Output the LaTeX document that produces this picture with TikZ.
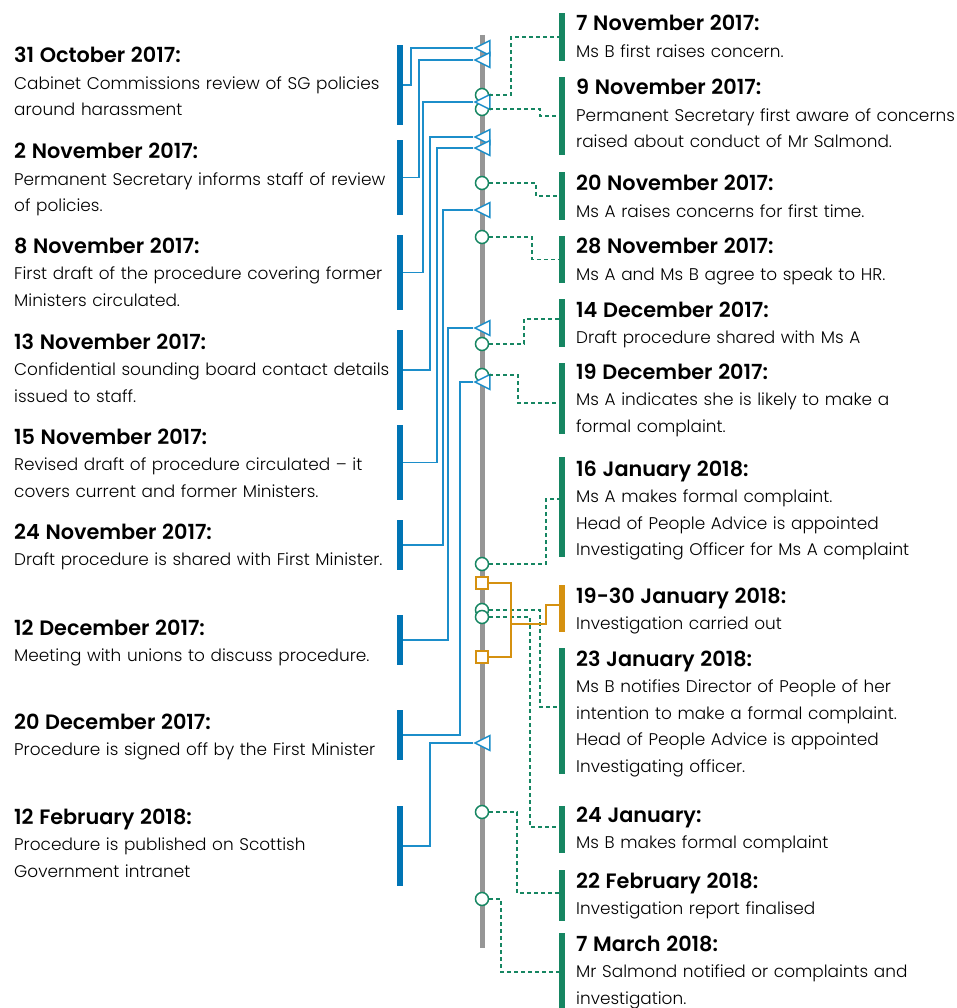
\documentclass[tikz,border=0pt]{standalone}
\usepackage{fontspec}
\setmainfont{Poppins}[UprightFont=* Light, BoldFont=* SemiBold]
\usetikzlibrary{shapes.geometric}
\definecolor{barblue}{RGB}{0,116,180}
\definecolor{linkblue}{RGB}{28,142,202}
\definecolor{evgreen}{RGB}{22,134,98}
\definecolor{evorange}{RGB}{213,145,16}
\definecolor{axisgrey}{RGB}{150,150,150}
\tikzset{
  lbar/.style={rectangle, fill=barblue, minimum width=6pt, inner sep=0pt},
  gbar/.style={rectangle, fill=evgreen, minimum width=6pt, inner sep=0pt},
  obar/.style={rectangle, fill=evorange, minimum width=6pt, inner sep=0pt},
  tmark/.style={isosceles triangle, isosceles triangle stretches, shape border rotate=180, minimum width=15pt, minimum height=15pt, inner sep=0pt, draw=linkblue, fill=white, line width=1.5pt, anchor=apex},
  cmark/.style={circle, minimum size=13pt, inner sep=0pt, draw=evgreen, fill=white, line width=1.5pt},
  smark/.style={rectangle, minimum size=12pt, inner sep=0pt, draw=evorange, fill=white, line width=1.5pt},
  bluelink/.style={draw=linkblue, line width=1.7pt},
  greenlink/.style={draw=evgreen, line width=1.7pt, dash pattern=on 4pt off 3pt},
  orangelink/.style={draw=evorange, line width=1.7pt},
  evtext/.style={anchor=base west, text width=400pt, align=left, inner sep=0pt, font=\fontsize{16.9}{26.5}\selectfont}
}
\newcommand{\evdate}[1]{{\fontsize{20.8}{26.5}\selectfont\bfseries #1}}

\begin{document}
\begin{tikzpicture}[x=1pt, y=-1pt]
\useasboundingbox (0,0) rectangle (956,1008);
\draw[axisgrey, line width=5pt] (482,35) -- (482,948);

\node[evtext] (lt1) at (14,63) {\evdate{31 October 2017:}\\Cabinet Commissions review of SG policies\\around harassment};
\node[evtext] (lt2) at (14,159) {\evdate{2 November 2017:}\\Permanent Secretary informs staff of review\\of policies.};
\node[evtext] (lt3) at (14,253) {\evdate{8 November 2017:}\\First draft of the procedure covering former\\Ministers circulated.};
\node[evtext] (lt4) at (14,349) {\evdate{13 November 2017:}\\Confidential sounding board contact details\\issued to staff.};
\node[evtext] (lt5) at (14,444) {\evdate{15 November 2017:}\\Revised draft of procedure circulated -- it\\covers current and former Ministers.};
\node[evtext] (lt6) at (14,539) {\evdate{24 November 2017:}\\Draft procedure is shared with First Minister.};
\node[evtext] (lt7) at (14,635) {\evdate{12 December 2017:}\\Meeting with unions to discuss procedure.};
\node[evtext] (lt8) at (14,729) {\evdate{20 December 2017:}\\Procedure is signed off by the First Minister};
\node[evtext] (lt9) at (14,824) {\evdate{12 February 2018:}\\Procedure is published on Scottish\\Government intranet};

\node[lbar, minimum height=80pt] (lb1) at (400,85) {};
\node[lbar, minimum height=75pt] (lb2) at (400,177.5) {};
\node[lbar, minimum height=75pt] (lb3) at (400,272.5) {};
\node[lbar, minimum height=80pt] (lb4) at (400,370) {};
\node[lbar, minimum height=75pt] (lb5) at (400,462.5) {};
\node[lbar, minimum height=50pt] (lb6) at (400,545) {};
\node[lbar, minimum height=50pt] (lb7) at (400,640) {};
\node[lbar, minimum height=50pt] (lb8) at (400,735) {};
\node[lbar, minimum height=80pt] (lb9) at (400,846) {};

\node[evtext] (rt1) at (576,31) {\evdate{7 November 2017:}\\Ms B first raises concern.};
\node[evtext] (rt2) at (576,95) {\evdate{9 November 2017:}\\Permanent Secretary first aware of concerns\\raised about conduct of Mr Salmond.};
\node[evtext] (rt3) at (576,191) {\evdate{20 November 2017:}\\Ms A raises concerns for first time.};
\node[evtext] (rt4) at (576,254) {\evdate{28 November 2017:}\\Ms A and Ms B agree to speak to HR.};
\node[evtext] (rt5) at (576,317) {\evdate{14 December 2017:}\\Draft procedure shared with Ms A};
\node[evtext] (rt6) at (576,379) {\evdate{19 December 2017:}\\Ms A indicates she is likely to make a\\formal complaint.};
\node[evtext] (rt7) at (576,476) {\evdate{16 January 2018:}\\Ms A makes formal complaint.\\Head of People Advice is appointed\\Investigating Officer for Ms A complaint};
\node[evtext] (rt8) at (576,603) {\evdate{19-30 January 2018:}\\Investigation carried out};
\node[evtext] (rt9) at (576,666) {\evdate{23 January 2018:}\\Ms B notifies Director of People of her\\intention to make a formal complaint.\\Head of People Advice is appointed\\Investigating officer.};
\node[evtext] (rt10) at (576,822) {\evdate{24 January:}\\Ms B makes formal complaint};
\node[evtext] (rt11) at (576,888) {\evdate{22 February 2018:}\\Investigation report finalised};
\node[evtext] (rt12) at (576,951) {\evdate{7 March 2018:}\\Mr Salmond notified or complaints and\\investigation.};

\node[gbar, minimum height=48pt] (rb1) at (562,37) {};
\node[gbar, minimum height=78pt] (rb2) at (562,116) {};
\node[gbar, minimum height=48pt] (rb3) at (562,196) {};
\node[gbar, minimum height=47pt] (rb4) at (562,259.5) {};
\node[gbar, minimum height=48pt] (rb5) at (562,323) {};
\node[gbar, minimum height=71pt] (rb6) at (562,398.5) {};
\node[gbar, minimum height=100pt] (rb7) at (562,507) {};
\node[obar, minimum height=47pt] (ob) at (562,608.5) {};
\node[gbar, minimum height=126pt] (rb9) at (562,711) {};
\node[gbar, minimum height=47pt] (rb10) at (562,829.5) {};
\node[gbar, minimum height=51pt] (rb11) at (562,895.5) {};
\node[gbar, minimum height=75pt] (rb12) at (562,970.5) {};

\node[cmark] (c1) at (482,95) {};
\node[cmark] (c2) at (482,109) {};
\node[cmark] (c3) at (482,183) {};
\node[cmark] (c4) at (482,237) {};
\node[cmark] (c5) at (482,344) {};
\node[cmark] (c6) at (482,375) {};
\node[cmark] (c7) at (482,564) {};
\node[cmark] (c9) at (482,610) {};
\node[cmark] (c10) at (482,617) {};
\node[cmark] (c11) at (482,812) {};
\node[cmark] (c12) at (482,899) {};

\node[tmark] (t1) at (473,48) {};
\node[tmark] (t2) at (473,60) {};
\node[tmark] (t3) at (473,102) {};
\node[tmark] (t4) at (473,137) {};
\node[tmark] (t5) at (473,148) {};
\node[tmark] (t6) at (473,210) {};
\node[tmark] (t7) at (473,328) {};
\node[tmark] (t8) at (473,382) {};
\node[tmark] (t9) at (473,743) {};

\node[smark] (s1) at (482,583) {};
\node[smark] (s2) at (482,657) {};
\coordinate (ofork) at (511,624);

\draw[bluelink] (lb1.east) -- ++(8,0) |- (t1.apex);
\draw[bluelink] (lb2.east) -- ++(16,0) |- (t2.apex);
\draw[bluelink] (lb3.east) -- ++(20,0) |- (t3.apex);
\draw[bluelink] (lb4.east) -- ++(27,0) |- (t4.apex);
\draw[bluelink] (lb5.east) -- ++(34,0) |- (t5.apex);
\draw[bluelink] (lb6.east) -- ++(40,0) |- (t6.apex);
\draw[bluelink] (lb7.east) -- ++(45,0) |- (t7.apex);
\draw[bluelink] (lb8.east) -- ++(57,0) |- (t8.apex);
\draw[bluelink] (lb9.east) -- ++(27,0) |- (t9.apex);

\draw[greenlink] (c1.east) -- ++(22,0) |- (rb1.west);
\draw[greenlink] (c2.east) -- ++(51,0) |- (rb2.west);
\draw[greenlink] (c3.east) -- ++(47,0) |- (rb3.west);
\draw[greenlink] (c4.east) -- ++(43,0) |- (rb4.west);
\draw[greenlink] (c5.east) -- ++(35,0) |- ([yshift=4pt]rb5.west);
\draw[greenlink] (c6.east) -- ++(29,0) |- ([yshift=-4.5pt]rb6.west);
\draw[greenlink] (c7.east) -- ++(57,0) |- ([yshift=8pt]rb7.west);
\draw[greenlink] (c9.east) -- ++(51,0) |- ([yshift=4pt]rb9.west);
\draw[greenlink] (c10.east) -- ++(41,0) |- ([yshift=2.5pt]rb10.west);
\draw[greenlink] (c11.east) -- ++(28,0) |- ([yshift=2.5pt]rb11.west);
\draw[greenlink] (c12.east) -- ++(12,0) |- ([yshift=-1.5pt]rb12.west);

\draw[orangelink] (s1.east) -| (ofork) |- (s2.east);
\draw[orangelink] (ofork) -- ++(35,0) |- ([yshift=3.5pt]ob.west);
\end{tikzpicture}
\end{document}
